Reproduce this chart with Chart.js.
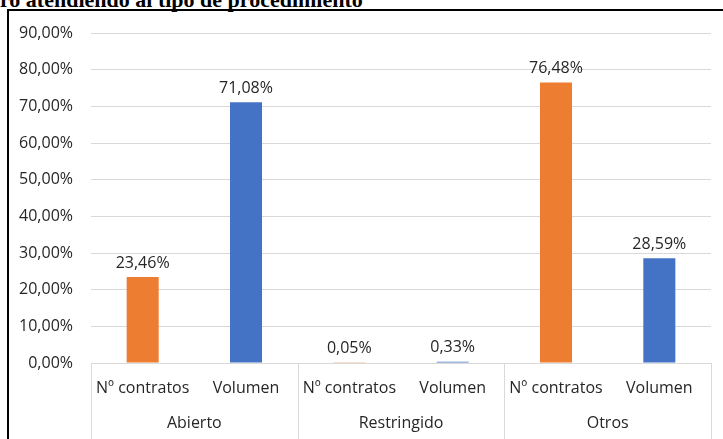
<!DOCTYPE html>
<html>
<head>
<meta charset="utf-8">
<script src="https://cdn.jsdelivr.net/npm/chart.js@4"></script>
<style>
  body { margin: 0; background: #fff; overflow: hidden; }
  #wrap { position: relative; width: 723px; height: 439px; }
  #titulo {
    position: absolute; left: 0; top: -13px;
    font: bold 22px "Liberation Serif", "Times New Roman", serif;
    color: #000; white-space: nowrap;
  }
  #marco {
    position: absolute; left: 7px; top: 9px; width: 740px; height: 460px;
    border-top: 2px solid #000; border-left: 2px solid #000;
  }
  canvas { position: absolute; left: 0; top: 0; }
</style>
</head>
<body>
<div id="wrap">
  <div id="titulo">ro atendiendo al tipo de procedimiento</div>
  <div id="marco"></div>
  <canvas id="grafico" width="723" height="439"></canvas>
</div>
<script>
// datos
const grupos = ['Abierto', 'Restringido', 'Otros'];
const subcategorias = ['Nº contratos', 'Volumen'];
const porcentajes = [23.46, 71.08, 0.05, 0.33, 76.48, 28.59];
const ticksY = [0, 10, 20, 30, 40, 50, 60, 70, 80, 90];

const naranja = '#ED7D31';
const azul = '#4472C4';
const fuente = '"Open Sans", sans-serif';
const tamano = 16;
const colorTexto = '#262626';

function formato(v) {
    return v.toFixed(2).replace('.', ',') + '%';
}

let etiquetas = [];
let colores = [];
grupos.forEach(function() {
    subcategorias.forEach(function(s, i) {
        etiquetas.push(s);
        colores.push(i === 0 ? naranja : azul);
    });
});

// etiquetas de valor, separadores y nombres de grupo
const extras = {
    id: 'extras',
    afterDatasetsDraw(chart) {
        let ctx = chart.ctx;
        let meta = chart.getDatasetMeta(0);
        ctx.save();
        ctx.font = tamano + 'px ' + fuente;
        ctx.fillStyle = colorTexto;
        ctx.textAlign = 'center';
        ctx.textBaseline = 'bottom';
        meta.data.forEach(function(bar, i) {
            ctx.fillText(formato(porcentajes[i]), bar.x, bar.y - 6);
        });

        let x = chart.scales.x;
        let bottom = chart.height;
        let top = x.top;
        ctx.strokeStyle = '#d9d9d9';
        ctx.lineWidth = 1;
        let n = subcategorias.length;
        for (let g = 0; g <= grupos.length; g++) {
            let px;
            if (g === 0) px = x.left;
            else if (g === grupos.length) px = x.right;
            else px = (x.getPixelForValue(g * n - 1) + x.getPixelForValue(g * n)) / 2;
            px = Math.round(px) + 0.5;
            ctx.beginPath();
            ctx.moveTo(px, top);
            ctx.lineTo(px, bottom);
            ctx.stroke();
        }
        ctx.textBaseline = 'middle';
        grupos.forEach(function(nombre, g) {
            let cx = (x.getPixelForValue(g * n) + x.getPixelForValue(g * n + n - 1)) / 2;
            ctx.fillText(nombre, cx, top + 60);
        });
        ctx.restore();
    }
};

new Chart(document.getElementById('grafico'), {
    type: 'bar',
    data: {
        labels: etiquetas,
        datasets: [{
            data: porcentajes,
            backgroundColor: colores,
            categoryPercentage: 1,
            barPercentage: 0.31
        }]
    },
    options: {
        responsive: false,
        animation: false,
        layout: { padding: { left: 0, right: 12, top: 33, bottom: 0 } },
        plugins: { legend: { display: false }, tooltip: { enabled: false } },
        scales: {
            x: {
                grid: { display: false },
                border: { display: false },
                ticks: { color: colorTexto, font: { family: fuente, size: tamano }, padding: 8, maxRotation: 0, autoSkip: false },
                afterFit(scale) { scale.height = 76; }
            },
            y: {
                min: 0,
                max: 90,
                afterBuildTicks(scale) { scale.ticks = ticksY.map(v => ({ value: v })); },
                grid: { color: '#d9d9d9', drawTicks: false },
                border: { display: false },
                ticks: { color: colorTexto, font: { family: fuente, size: tamano }, padding: 18, callback: v => formato(v) },
                afterFit(scale) { scale.width = 91; }
            }
        }
    },
    plugins: [extras]
});
</script>
</body>
</html>
